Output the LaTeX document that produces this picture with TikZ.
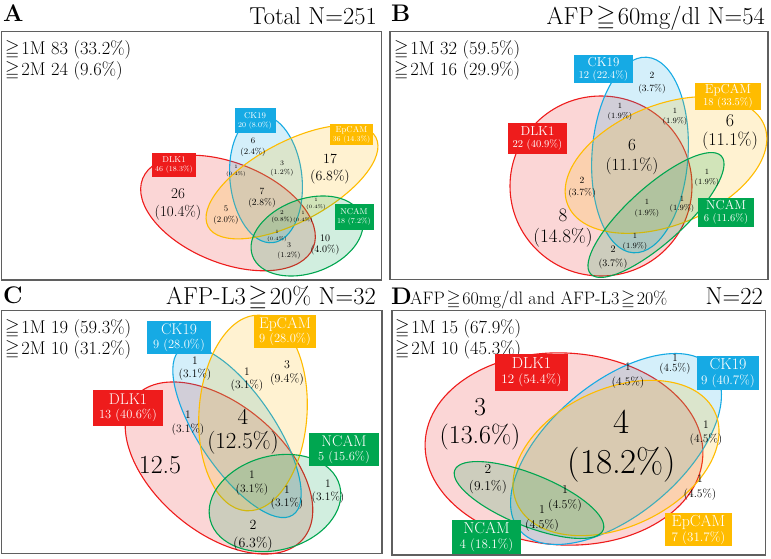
\documentclass[tikz,border=0pt]{standalone}
\usepackage{amssymb}
\definecolor{cR}{RGB}{238,28,28}
\definecolor{cB}{RGB}{22,170,228}
\definecolor{cY}{RGB}{255,188,0}
\definecolor{cG}{RGB}{0,166,80}
\definecolor{frameC}{RGB}{95,95,95}
\newcommand{\mygeq}{\hspace{0.1em}\ensuremath{\geqq}\hspace{0.1em}}
\newcommand{\myfs}[2]{\fontsize{#1}{#2}\selectfont}
\begin{document}
\begin{tikzpicture}[x=1pt,y=-1pt,
 panel/.style={draw=frameC, line width=1.1pt},
 venn/.style={draw=#1, fill=#1, fill opacity=0.18, line width=1.1pt},
 lab/.style={fill=#1, text=white, inner sep=0pt, align=center},
 num/.style={align=center, inner sep=0pt, text=black},
 ttl/.style={inner sep=0pt, anchor=base east, font=\myfs{24.5}{25}},
 letter/.style={inner sep=0pt, anchor=base west, font=\bfseries\myfs{24}{24}},
 row/.style={inner sep=0pt, anchor=base west, font=\myfs{18.5}{20}},
]
\useasboundingbox (0,0) rectangle (771,559);
\fill[white] (0,0) rectangle (771,559);

%% ---------------- Panel A ----------------
\node[letter] (LA) at (3,22) {A};
\node[ttl] (TA) at (377,25) {Total N=251};
\draw[panel] (1.5,31.5) rectangle (381.5,280);
\node[row] (A1) at (3,55) {\mygeq 1M 83 (33.2\%)};
\node[row] (A2) at (3,76) {\mygeq 2M 24 (9.6\%)};

\draw[venn=cR, rotate around={-22:(228,213)}] (228,213) ellipse [x radius=92, y radius=50];
\draw[venn=cB, rotate around={6:(266,179)}] (266,179) ellipse [x radius=36, y radius=64];
\draw[venn=cY, rotate around={28:(292,182)}] (292,182) ellipse [x radius=95, y radius=40];
\draw[venn=cG, rotate around={20:(307,236)}] (307,236) ellipse [x radius=58, y radius=37];

\node[lab=cR, minimum width=44, minimum height=24, font=\myfs{7.5}{9}] (DA) at (174,165) {{\myfs{8.5}{9}DLK1}\\46 (18.3\%)};
\node[lab=cB, minimum width=41, minimum height=25, font=\myfs{7.5}{9}] (CA) at (255,120.5) {{\myfs{8.5}{9}CK19}\\20 (8.0\%)};
\node[lab=cY, minimum width=43, minimum height=21, font=\myfs{7.5}{9}] (EA) at (351.5,134.5) {{\myfs{8.5}{9}EpCAM}\\36 (14.3\%)};
\node[lab=cG, minimum width=39, minimum height=26, font=\myfs{7.5}{9}] (NA) at (354,217) {{\myfs{8.5}{9}NCAM}\\18 (7.2\%)};

\node[num, font=\myfs{15}{18}] (a1) at (178,204) {26\\(10.4\%)};
\node[num, font=\myfs{8.5}{11}] (a2) at (253,147.5) {6\\(2.4\%)};
\node[num, font=\myfs{14}{17}] (a3) at (330,169.5) {17\\(6.8\%)};
\node[num, font=\myfs{5}{7}] (a4) at (236,170.5) {1\\(0.4\%)};
\node[num, font=\myfs{7}{9}] (a5) at (282,168.5) {3\\(1.2\%)};
\node[num, font=\myfs{9.5}{11}] (a6) at (262,197.5) {7\\(2.8\%)};
\node[num, font=\myfs{8.5}{11}] (a7) at (226,215.5) {5\\(2.0\%)};
\node[num, font=\myfs{6}{7.5}] (a8) at (282,217) {2\\(0.8\%)};
\node[num, font=\myfs{5}{7}] (a9) at (303,216.5) {1\\(0.4\%)};
\node[num, font=\myfs{5}{6.5}] (a10) at (316,204) {1\\(0.4\%)};
\node[num, font=\myfs{5}{7}] (a11) at (277,235.5) {1\\(0.4\%)};
\node[num, font=\myfs{7.5}{10}] (a12) at (289,251) {3\\(1.2\%)};
\node[num, font=\myfs{10}{11}] (a13) at (325,244.5) {10\\(4.0\%)};

%% ---------------- Panel B ----------------
\node[letter] (LB) at (391,22) {B};
\node[ttl] (TB) at (765,25) {AFP\mygeq 60mg/dl N=54};
\draw[panel] (390,31.5) rectangle (768,279.5);
\node[row] (B1) at (392,55) {\mygeq 1M 32 (59.5\%)};
\node[row] (B2) at (392,76) {\mygeq 2M 16 (29.9\%)};

\draw[venn=cR] (601,186) ellipse [x radius=91, y radius=90];
\draw[venn=cB, rotate around={-4:(640,155)}] (640,155) ellipse [x radius=48, y radius=98];
\draw[venn=cY, rotate around={22:(666,165)}] (666,165) ellipse [x radius=106, y radius=60];
\draw[venn=cG, rotate around={42:(656,215)}] (656,215) ellipse [x radius=88, y radius=28];

\node[lab=cB, minimum width=59, minimum height=28, font=\myfs{10.5}{12}] (CB) at (603.5,69) {{\myfs{13}{13}CK19}\\12 (22.4\%)};
\node[lab=cY, minimum width=66, minimum height=27, font=\myfs{10.5}{12}] (EB) at (728,96.5) {{\myfs{13}{13}EpCAM}\\18 (33.5\%)};
\node[lab=cR, minimum width=59, minimum height=31, font=\myfs{10.5}{12}] (DB) at (537.5,138.5) {{\myfs{13}{13}DLK1}\\22 (40.9\%)};
\node[lab=cG, minimum width=56, minimum height=29, font=\myfs{10.5}{12}] (NB) at (726,212.5) {{\myfs{13}{13}NCAM}\\6 (11.6\%)};

\node[num, font=\myfs{9.5}{13}] (b1) at (652,83) {2\\(3.7\%)};
\node[num, font=\myfs{8}{10}] (b2) at (620,111.5) {1\\(1.9\%)};
\node[num, font=\myfs{8}{10}] (b3) at (675,117) {1\\(1.9\%)};
\node[num, font=\myfs{18}{19}] (b4) at (730,132.5) {6\\(11.1\%)};
\node[num, font=\myfs{17}{20}] (b5) at (632,157) {6\\(11.1\%)};
\node[num, font=\myfs{9.5}{12}] (b6) at (582,188) {2\\(3.7\%)};
\node[num, font=\myfs{8}{10}] (b7) at (707,178) {1\\(1.9\%)};
\node[num, font=\myfs{8}{11}] (b8) at (647,208.5) {1\\(1.9\%)};
\node[num, font=\myfs{8}{9.5}] (b9) at (682,204.5) {1\\(1.9\%)};
\node[num, font=\myfs{19}{21}] (b10) at (563,228.5) {8\\(14.8\%)};
\node[num, font=\myfs{8}{10}] (b11) at (635,242) {1\\(1.9\%)};
\node[num, font=\myfs{10}{14}] (b12) at (613,257) {2\\(3.7\%)};

%% ---------------- Panel C ----------------
\node[letter] (LC) at (3,303) {C};
\node[ttl] (TC) at (376,304) {AFP-L3\mygeq 20\% N=32};
\draw[panel] (1.5,310.5) rectangle (382,553.5);
\node[row] (C1) at (3,333) {\mygeq 1M 19 (59.3\%)};
\node[row] (C2) at (3,354) {\mygeq 2M 10 (31.2\%)};

\draw[venn=cR, rotate around={-40:(219,468)}] (219,468) ellipse [x radius=110, y radius=64];
\draw[venn=cB, rotate around={-56:(237,432)}] (237,432) ellipse [x radius=100, y radius=38];
\draw[venn=cY, rotate around={-4:(253,413)}] (253,413) ellipse [x radius=54, y radius=98];
\draw[venn=cG, rotate around={15:(275,503)}] (275,503) ellipse [x radius=67, y radius=47];

\node[lab=cB, minimum width=64, minimum height=33, font=\myfs{12.5}{14}] (CC) at (179,337.5) {{\myfs{15.5}{15}CK19}\\9 (28.0\%)};
\node[lab=cY, minimum width=62, minimum height=33, font=\myfs{12.5}{14}] (EC) at (285,331.5) {{\myfs{15.5}{15}EpCAM}\\9 (28.0\%)};
\node[lab=cR, minimum width=70, minimum height=36, font=\myfs{12.5}{14}] (DC) at (128,408) {{\myfs{15.5}{15}DLK1}\\13 (40.6\%)};
\node[lab=cG, minimum width=70, minimum height=33, font=\myfs{12.5}{14}] (NC) at (344,449.5) {{\myfs{15.5}{15}NCAM}\\5 (15.6\%)};

\node[num, font=\myfs{11.5}{13}] (c1) at (195,369) {1\\(3.1\%)};
\node[num, font=\myfs{11.5}{13}] (c2) at (247,379.5) {1\\(3.1\%)};
\node[num, font=\myfs{12}{14}] (c3) at (287,373) {3\\(9.4\%)};
\node[num, font=\myfs{11.5}{14}] (c4) at (188,423) {1\\(3.1\%)};
\node[num, font=\myfs{23}{24}] (c5) at (243,431.5) {4\\(12.5\%)};
\node[num, font=\myfs{26}{26}] (c6) at (160,465) {12.5};
\node[num, font=\myfs{11.5}{14}] (c7) at (252,483) {1\\(3.1\%)};
\node[num, font=\myfs{11.5}{13}] (c8) at (287,497.5) {1\\(3.1\%)};
\node[num, font=\myfs{11.5}{13}] (c9) at (328,491.5) {1\\(3.1\%)};
\node[num, font=\myfs{14}{18}] (c10) at (253,535.5) {2\\(6.3\%)};

%% ---------------- Panel D ----------------
\node[letter] (LD) at (391,304) {D};
\node[inner sep=0pt, anchor=base west, font=\myfs{18}{18}] (SD) at (410,304) {AFP\mygeq 60mg/dl and AFP-L3\mygeq 20\%};
\node[ttl] (TD) at (763,304) {N=22};
\draw[panel] (392,310.5) rectangle (765.5,555);
\node[row] (D1) at (393,333) {\mygeq 1M 15 (67.9\%)};
\node[row] (D2) at (393,354) {\mygeq 2M 10 (45.3\%)};

\draw[venn=cR, rotate around={-3:(564,449)}] (564,449) ellipse [x radius=139, y radius=96];
\draw[venn=cB, rotate around={40:(616,449)}] (616,449) ellipse [x radius=126, y radius=66];
\draw[venn=cY, rotate around={25:(616,458)}] (616,458) ellipse [x radius=109, y radius=69];
\draw[venn=cG, rotate around={-22:(529,500)}] (529,500) ellipse [x radius=80, y radius=26];

\node[lab=cR, minimum width=73, minimum height=37, font=\myfs{13}{15}] (DD) at (531.5,372.5) {{\myfs{16}{16}DLK1}\\12 (54.4\%)};
\node[lab=cB, minimum width=62, minimum height=34, font=\myfs{13}{15}] (CD) at (728,373) {{\myfs{16}{16}CK19}\\9 (40.7\%)};
\node[lab=cY, minimum width=67, minimum height=33, font=\myfs{13}{15}] (ED) at (698.5,529.5) {{\myfs{16}{16}EpCAM}\\7 (31.7\%)};
\node[lab=cG, minimum width=69, minimum height=34, font=\myfs{13}{15}] (ND) at (486.5,537) {{\myfs{16}{16}NCAM}\\4 (18.1\%)};

\node[num, font=\myfs{11}{10}] (d1) at (675,364) {1\\(4.5\%)};
\node[num, font=\myfs{11.5}{15}] (d2) at (628,375.5) {1\\(4.5\%)};
\node[num, font=\myfs{26}{28}] (d3) at (480,424) {3\\(13.6\%)};
\node[num, font=\myfs{35}{40}] (d4) at (622,446) {4\\(18.2\%)};
\node[num, font=\myfs{11.5}{14}] (d5) at (706,433.5) {1\\(4.5\%)};
\node[num, font=\myfs{11.5}{15}] (d6) at (700,487.5) {1\\(4.5\%)};
\node[num, font=\myfs{13.5}{17}] (d7) at (488,479.5) {2\\(9.1\%)};
\node[num, font=\myfs{12}{15}] (d8) at (565,498.5) {1\\(4.5\%)};
\node[num, font=\myfs{12}{15}] (d9) at (542,518.5) {1\\(4.5\%)};
\end{tikzpicture}
\end{document}
